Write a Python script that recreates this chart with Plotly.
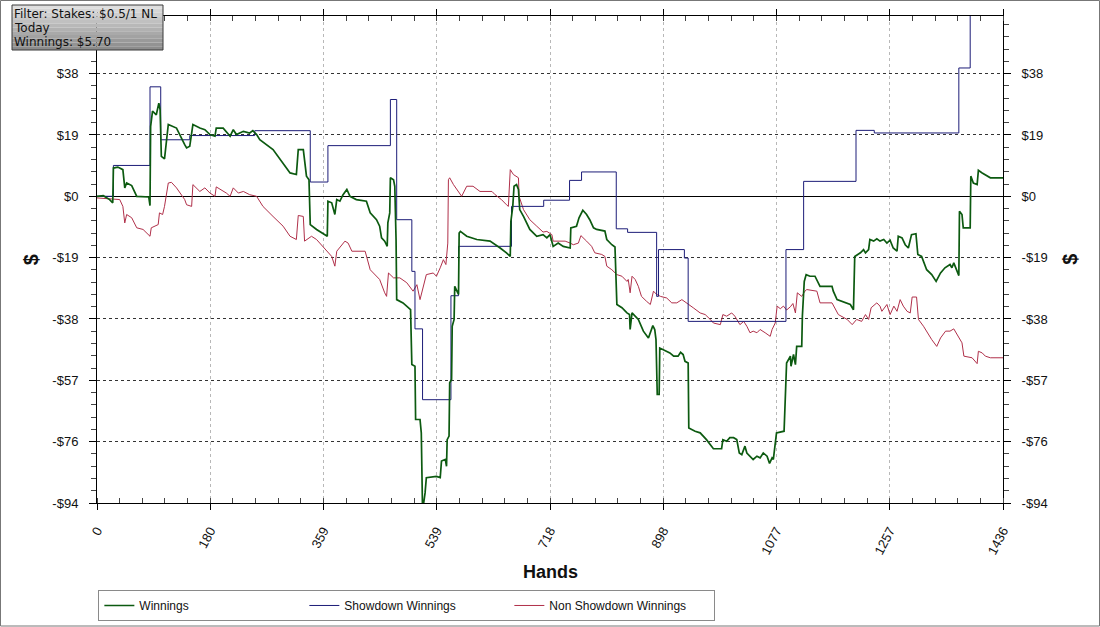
import plotly.graph_objects as go

# Winnings (green)
win_hands = [0, 10, 20, 25, 26, 33, 41, 44, 47, 55, 63, 82, 84, 85, 88, 94, 98, 100, 102, 107,
             113, 126, 139, 142, 147, 152, 163, 171, 179, 187, 189, 200, 211, 216, 221, 232, 242,
             247, 253, 258, 279, 290, 306, 316, 319, 327, 332, 336, 338, 348, 358, 365, 366, 372,
             377, 380, 385, 390, 396, 401, 411, 427, 433, 443, 448, 451, 456, 460, 461, 464, 465,
             470, 472, 474, 475, 485, 497, 499, 504, 505, 512, 514, 516, 520, 522, 538, 544, 546,
             552, 554, 555, 558, 559, 562, 563, 566, 567, 569, 573, 574, 576, 586, 602, 623, 628,
             639, 649, 655, 656, 659, 661, 665, 668, 670, 676, 686, 697, 707, 713, 718, 723, 731,
             739, 750, 751, 760, 764, 770, 776, 781, 787, 792, 805, 808, 816, 821, 824, 832, 840,
             844, 845, 848, 858, 866, 874, 881, 884, 886, 888, 891, 892, 900, 908, 914, 921, 925,
             929, 932, 937, 938, 948, 956, 966, 977, 990, 992, 998, 1003, 1009, 1014, 1018, 1022,
             1027, 1030, 1035, 1040, 1046, 1051, 1056, 1062, 1066, 1070, 1072, 1075, 1077, 1089,
             1091, 1093, 1099, 1100, 1104, 1107, 1109, 1117, 1118, 1121, 1124, 1130, 1138, 1146,
             1165, 1167, 1173, 1181, 1186, 1194, 1199, 1201, 1210, 1215, 1218, 1223, 1225, 1231,
             1236, 1241, 1247, 1252, 1257, 1262, 1268, 1270, 1276, 1281, 1286, 1291, 1298, 1301,
             1307, 1315, 1323, 1330, 1337, 1344, 1352, 1355, 1358, 1363, 1366, 1367, 1371, 1373,
             1384, 1385, 1389, 1395, 1397, 1403, 1408, 1416, 1436]
win_values = [0, 0.2, -1.0, -2.0, 8.7, 9.0, 8.2, 2.6, 4.1, 3.3, 0, -0.2, -2.9, 21.5, 26.2, 25.1,
              28.7, 26.7, 12.3, 11.5, 22.1, 21.0, 15.9, 14.9, 15.4, 22.1, 21.0, 20.5, 19.0, 18.5,
              21.0, 21.0, 18.5, 20.5, 19.0, 20.0, 19.5, 20.2, 19.0, 17.4, 14.4, 11.3, 7.2, 6.7,
              14.4, 14.4, 6.2, 5.1, -8.7, -10.2, -11.3, -12.3, -1.5, -2.0, -5.6, -1.0, -1.5, 0.5,
              2.1, 0, -1.0, -1.5, -5.1, -7.2, -9.2, -12.8, -13.8, -15.4, -8.2, -5.1, 5.7, 5.1, 3.1,
              -13.3, -31.8, -32.8, -34.9, -51.8, -52.3, -68.7, -68.7, -72.8, -97.0, -91.3, -86.6,
              -86.2, -86.6, -81.5, -81.0, -83.1, -74.9, -73.8, -57.4, -56.4, -40.0, -37.9, -27.7,
              -28.7, -30.2, -11.3, -10.8, -12.3, -13.3, -13.8, -14.4, -15.9, -17.4, -18.5, -7.7,
              -3.1, 3.1, 3.6, 2.1, -4.1, -6.2, -10.2, -12.3, -11.8, -12.8, -11.8, -15.4, -14.4,
              -15.4, -15.9, -9.7, -9.2, -6.6, -4.3, -5.6, -7.2, -9.7, -10.2, -10.7, -13.3, -14.9,
              -15.6, -33.3, -34.3, -35.9, -36.4, -41.0, -35.9, -37.9, -41.5, -43.6, -39.8, -41.0,
              -44.1, -61.0, -61.0, -46.7, -47.5, -48.2, -49.2, -49.2, -48.0, -48.7, -50.8, -51.3,
              -71.3, -72.3, -72.8, -74.9, -77.7, -77.7, -74.9, -75.4, -74.3, -74.3, -74.9, -79.0,
              -79.5, -76.9, -79.0, -80.0, -81.0, -80.0, -80.5, -79.0, -80.0, -82.2, -80.5, -81.0,
              -76.9, -72.8, -72.3, -61.5, -51.3, -49.2, -52.3, -48.7, -51.8, -46.2, -46.2, -36.9,
              -26.2, -24.1, -24.6, -24.6, -27.7, -27.7, -29.2, -31.8, -32.3, -32.8, -33.3, -34.9,
              -18.5, -17.4, -16.4, -17.4, -16.4, -13.3, -13.8, -13.1, -13.8, -13.3, -14.4, -13.5,
              -15.9, -16.9, -12.3, -12.8, -14.9, -15.9, -11.8, -11.5, -17.9, -18.5, -22.6, -24.1,
              -26.2, -23.6, -22.0, -21.0, -22.0, -20.5, -23.1, -24.4, -4.6, -5.6, -9.7, -9.7, 6.2,
              4.1, 3.6, 8.0, 7.2, 6.7, 5.7, 5.7]

# Showdown winnings (blue, stepped)
sd_hands = [0, 26, 84, 101, 147, 250, 338, 366, 465, 475, 499, 504, 516, 561, 573, 657, 708,
            749, 768, 823, 841, 887, 890, 931, 937, 1092, 1120, 1203, 1232, 1366, 1384, 1436]
sd_values = [0, 9.5, 33.7, 17.4, 18.7, 20.2, 4.4, 15.6, 29.8, -7.2, -23.1, -40.8, -62.6, -30.6,
             -15.4, -3.1, -1.2, 4.9, 7.5, -10.0, -11.1, -30.8, -16.4, -19.0, -38.5, -16.4, 4.6,
             20.3, 19.5, 39.5, 62.0, 62.0]

# Non showdown winnings (red)
nsd_hands = [0, 25, 36, 41, 44, 47, 55, 63, 73, 84, 86, 97, 99, 104, 107, 113, 118, 126, 139,
             142, 150, 152, 163, 171, 179, 187, 189, 205, 211, 216, 224, 232, 242, 253, 263, 279,
             295, 306, 316, 319, 327, 329, 340, 348, 358, 372, 377, 380, 393, 398, 404, 425, 433,
             448, 456, 459, 462, 470, 480, 491, 501, 507, 512, 517, 522, 533, 538, 544, 549, 553,
             556, 557, 559, 565, 573, 578, 586, 596, 607, 626, 631, 641, 649, 652, 655, 660, 668,
             669, 676, 686, 697, 702, 707, 713, 718, 721, 723, 734, 742, 750, 755, 763, 767, 776,
             784, 789, 800, 805, 808, 816, 824, 832, 840, 842, 845, 848, 853, 858, 863, 871, 877,
             882, 887, 893, 903, 911, 919, 927, 935, 945, 956, 964, 972, 977, 988, 992, 998, 1006,
             1011, 1019, 1025, 1030, 1035, 1040, 1046, 1051, 1059, 1067, 1070, 1075, 1078, 1083,
             1088, 1093, 1099, 1103, 1107, 1110, 1117, 1122, 1125, 1141, 1146, 1165, 1175, 1189,
             1197, 1204, 1212, 1218, 1223, 1227, 1236, 1241, 1244, 1252, 1257, 1263, 1268, 1273,
             1278, 1284, 1289, 1292, 1299, 1302, 1310, 1316, 1323, 1331, 1337, 1345, 1352, 1358,
             1363, 1371, 1374, 1387, 1395, 1397, 1403, 1408, 1416, 1436]
nsd_values = [-0.5, -1.0, -1.0, -3.1, -8.2, -5.6, -6.6, -9.7, -10.2, -12.3, -9.7, -8.7, -5.1,
              -5.6, -3.1, 4.1, 4.3, 2.6, -1.0, -2.6, -3.1, 3.6, 1.5, 2.6, 1.0, 0, 2.9, 1.0, 0,
              2.6, 1.0, 1.5, 0.5, 0, -3.1, -6.2, -9.2, -12.3, -13.3, -5.9, -6.2, -13.8, -12.3,
              -13.3, -15.4, -18.5, -21.5, -16.9, -13.8, -14.4, -16.9, -16.9, -22.6, -25.6, -29.7,
              -30.8, -23.6, -25.1, -25.1, -26.6, -29.2, -27.2, -31.8, -27.7, -24.1, -23.6, -24.6,
              -22.0, -19.5, -21.0, -14.4, 5.1, 5.7, 3.6, 1.5, 0, 3.1, 3.1, 1.5, 1.5, 0.5, -1.0,
              -2.6, -3.1, 8.2, 6.7, 5.7, 0, -4.1, -7.2, -9.2, -10.2, -11.0, -10.8, -11.3, -11.8,
              -13.8, -13.8, -13.8, -14.4, -14.9, -14.4, -12.1, -13.8, -15.4, -17.4, -17.9, -18.5,
              -21.5, -22.6, -24.1, -24.6, -26.2, -25.6, -29.7, -24.6, -25.6, -27.7, -30.8, -32.3,
              -33.3, -29.2, -30.2, -30.8, -31.3, -32.8, -32.8, -31.8, -32.8, -34.3, -35.9, -36.4,
              -37.9, -39.0, -39.5, -36.4, -36.9, -35.9, -36.9, -39.5, -38.5, -40.0, -42.0, -41.5,
              -42.0, -41.0, -42.0, -43.1, -41.0, -39.0, -33.8, -34.6, -33.8, -35.0, -34.0, -33.0,
              -35.9, -29.7, -30.8, -29.2, -28.7, -29.2, -32.8, -32.8, -36.4, -37.9, -39.5, -37.9,
              -38.5, -36.4, -37.9, -34.3, -32.8, -33.8, -35.4, -33.3, -36.4, -33.8, -35.4, -31.8,
              -33.8, -35.4, -35.9, -31.0, -31.0, -37.9, -40.0, -42.0, -44.1, -46.2, -43.6, -41.5,
              -41.5, -40.8, -42.6, -45.1, -49.2, -49.7, -51.5, -47.7, -48.2, -49.2, -49.7, -49.7]

x_ticks = [0, 179.5, 359, 538.5, 718, 897.5, 1077, 1256.5, 1436]
x_labels = ["0", "180", "359", "539", "718", "898", "1077", "1257", "1436"]
y_ticks = [-94.4, -75.52, -56.64, -37.76, -18.88, 0, 18.88, 37.76]
y_labels = ["-$94", "-$76", "-$57", "-$38", "-$19", "$0", "$19", "$38"]

filter_lines = ["Filter: Stakes: $0.5/1 NL", "Today", "Winnings: $5.70"]

fig = go.Figure()
fig.add_trace(go.Scatter(x=nsd_hands, y=nsd_values, mode="lines", name="Non Showdown Winnings",
                         line=dict(color="#b0304a", width=1), legendrank=3))
fig.add_trace(go.Scatter(x=sd_hands, y=sd_values, mode="lines", name="Showdown Winnings",
                         line=dict(color="#1c1c78", width=1, shape="hv"), legendrank=2))
fig.add_trace(go.Scatter(x=win_hands, y=win_values, mode="lines", name="Winnings",
                         line=dict(color="#0c5a10", width=1.7), legendrank=1))
# empty trace so the right-hand axis is drawn
fig.add_trace(go.Scatter(x=[None], y=[None], yaxis="y2", showlegend=False, hoverinfo="skip"))

tick_font = dict(family="Liberation Sans, Arial", size=13, color="#111")

fig.update_layout(
    width=1100, height=627,
    margin=dict(l=97, r=97, t=16, b=124, autoexpand=False),
    paper_bgcolor="white", plot_bgcolor="white",
    showlegend=True,
    legend=dict(orientation="h", x=0.0015, y=-0.1786, xanchor="left", yanchor="top",
                bgcolor="white", bordercolor="#8a8a8a", borderwidth=1,
                entrywidth=160, entrywidthmode="pixels", itemwidth=30,
                font=dict(family="Liberation Sans, Arial", size=12, color="#111")),
    xaxis=dict(range=[0, 1436], tickmode="array", tickvals=x_ticks, ticktext=x_labels,
               tickangle=-62, tickfont=tick_font, ticks="outside", ticklen=6, tickcolor="#000",
               showline=True, linecolor="#000", mirror="ticks", automargin=False,
               showgrid=True, gridcolor="#b8b8b8", griddash="dot", gridwidth=1,
               zeroline=False, ticklabelstandoff=8,
               minor=dict(ticks="inside", ticklen=5, tickcolor="#444", tick0=0, dtick=35.9,
                          showgrid=False)),
    yaxis=dict(range=[-94.4, 55.5], tickmode="array", tickvals=y_ticks, ticktext=y_labels,
               tickfont=tick_font, ticks="outside", ticklen=7, tickcolor="#000",
               showline=True, linecolor="#000", automargin=False,
               showgrid=True, gridcolor="#333", griddash="dot", gridwidth=1,
               zeroline=True, zerolinecolor="#000", zerolinewidth=1, ticklabelstandoff=8,
               minor=dict(ticks="outside", ticklen=5, tickcolor="#444", tick0=-94.4,
                          dtick=3.776, showgrid=False)),
    yaxis2=dict(range=[-94.4, 55.5], overlaying="y", side="right", tickmode="array",
                tickvals=y_ticks, ticktext=y_labels, tickfont=tick_font, ticks="outside",
                ticklen=7, tickcolor="#000", showline=True, linecolor="#000", showgrid=False,
                zeroline=False, ticklabelstandoff=8, automargin=False,
                minor=dict(ticks="outside", ticklen=5, tickcolor="#444", tick0=-94.4,
                           dtick=3.776)),
)

# axis titles
fig.add_annotation(text="<b>Hands</b>", xref="paper", yref="paper", x=0.5, y=-0.142,
                   xanchor="center", yanchor="middle", showarrow=False,
                   font=dict(family="Liberation Sans, Arial", size=18, color="#111"))
for xpos in (-0.073, 1.073):
    fig.add_annotation(text="<b>$</b>", xref="paper", yref="paper", x=xpos, y=0.5,
                       textangle=-90, showarrow=False, xanchor="center", yanchor="middle",
                       font=dict(family="Liberation Sans, Arial", size=20, color="#111"))

# filter box with grey gradient
px_to_x = lambda p: (p - 97) / 906
px_to_y = lambda p: (503 - p) / 487
box_top, box_bottom, box_left, box_right = 5, 50, 12, 163
strips = 12
for i in range(strips):
    g = int(222 - i * (222 - 140) / (strips - 1))
    t = box_top + (box_bottom - box_top) * i / strips
    b = box_top + (box_bottom - box_top) * (i + 1) / strips
    fig.add_shape(type="rect", xref="paper", yref="paper",
                  x0=px_to_x(box_left), x1=px_to_x(box_right), y0=px_to_y(b), y1=px_to_y(t),
                  fillcolor=f"rgb({g},{g},{g})", line_width=0, layer="above")
fig.add_shape(type="rect", xref="paper", yref="paper",
              x0=px_to_x(box_left), x1=px_to_x(box_right),
              y0=px_to_y(box_bottom), y1=px_to_y(box_top),
              line=dict(color="#3a3a3a", width=1), fillcolor="rgba(0,0,0,0)", layer="above")
for i, line in enumerate(filter_lines):
    fig.add_annotation(text=line, xref="paper", yref="paper",
                       x=px_to_x(box_left + 1), y=px_to_y(14 + 14 * i), xanchor="left",
                       yanchor="middle", align="left", showarrow=False, borderpad=0,
                       font=dict(family="DejaVu Sans, Verdana", size=12, color="#111"))

# outer frame
fig.add_shape(type="rect", xref="paper", yref="paper",
              x0=px_to_x(0.5), x1=px_to_x(1099.5), y0=px_to_y(626), y1=px_to_y(0.5),
              line=dict(color="#777", width=1), fillcolor="rgba(0,0,0,0)", layer="below")

# the page's default body margin would shift the figure by 8px
fig.write_html("out.html", config={"displayModeBar": False},
               post_script="document.body.style.margin='0';")
